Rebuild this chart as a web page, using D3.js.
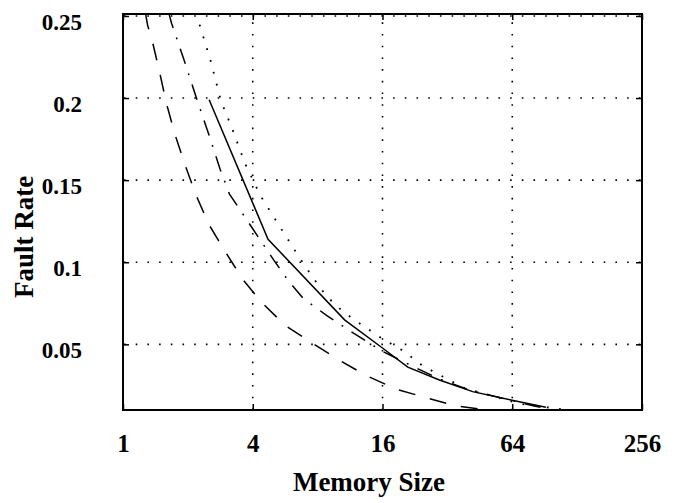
<!DOCTYPE html>
<html><head><meta charset="utf-8">
<script src="https://cdn.jsdelivr.net/npm/d3@7"></script>
<style>body{margin:0;background:#fff}svg{display:block}</style>
</head><body><svg id="c" width="689" height="503"></svg>
<script>
// ---- data ----
const xTicks = [1, 4, 16, 64, 256];
const yTicks = [0.05, 0.1, 0.15, 0.2, 0.25];
const xGrid = [4, 16, 64];
const xTitle = "Memory Size";
const yTitle = "Fault Rate";

const solidMem   = [2.51, 4.71, 10.67, 16.05, 20.96, 29.4, 41.9, 63.1, 91.7];
const solidRate  = [0.199, 0.114, 0.0649, 0.0476, 0.0361, 0.0283, 0.0212, 0.0161, 0.0117];

const dottedMem  = [2.2, 2.27, 2.55, 2.85, 3.21, 3.68, 4.34, 4.97, 5.69, 6.55, 7.56, 8.78, 10.48, 12.97, 16.05, 20.0, 24.6, 38.4, 55.3, 70.2, 117.5];
const dottedRate = [0.252, 0.2445, 0.2228, 0.1981, 0.1814, 0.1603, 0.1406, 0.1282, 0.116, 0.1034, 0.0912, 0.0795, 0.0699, 0.0614, 0.0533, 0.046, 0.0369, 0.0233, 0.0175, 0.0137, 0.0099];

const dashDotMem  = [1.63, 1.68, 1.92, 2.18, 2.49, 2.83, 3.12, 3.71, 4.23, 5.0, 5.89, 6.84, 8.83, 11.25, 16.05, 22.5, 29.4, 41.2, 62, 80.9, 90];
const dashDotRate = [0.252, 0.2456, 0.2232, 0.2009, 0.1786, 0.1562, 0.1415, 0.1268, 0.1156, 0.1014, 0.0882, 0.0781, 0.0675, 0.0583, 0.0456, 0.0361, 0.0289, 0.0218, 0.0161, 0.0125, 0.0113];

const dashMem  = [1.27, 1.30, 1.37, 1.48, 1.59, 1.74, 1.94, 2.18, 2.51, 3.0, 3.61, 4.44, 5.69, 7.56, 10.04, 13.53, 18.5, 25.5, 35.1, 48.5];
const dashRate = [0.252, 0.2445, 0.2343, 0.2155, 0.1968, 0.1781, 0.1593, 0.141, 0.1227, 0.1059, 0.0892, 0.075, 0.0612, 0.0507, 0.0405, 0.0308, 0.0227, 0.0175, 0.0125, 0.0100];

// ---- layout ----
const L = 123, R = 642, T = 14, B = 410;
const svg = d3.select("#c");
const x = d3.scaleLog().base(2).domain([1, 256]).range([L, R]);
const y = d3.scaleLinear().domain([0.01, 0.2512]).range([B, T]);
const font = "'Liberation Serif','Times New Roman',serif";

svg.append("defs").append("clipPath").attr("id", "clip")
  .append("rect").attr("x", L).attr("y", T).attr("width", R - L).attr("height", B - T);

// grid
const grid = svg.append("g").attr("stroke", "#000").attr("stroke-width", 1.6)
  .attr("stroke-dasharray", "1.6,10.1").attr("fill", "none");
yTicks.forEach(v => grid.append("line").attr("x1", L + 1).attr("x2", R).attr("y1", y(v)).attr("y2", y(v)));
xGrid.forEach(v => grid.append("line").attr("x1", x(v)).attr("x2", x(v)).attr("y1", B).attr("y2", T + 1));

// axes (ticks inside, mirrored)
const fmt = d => String(d);
const ax = {
  bottom: d3.axisBottom(x).tickValues(xTicks).tickFormat(fmt).tickSizeInner(-6).tickSizeOuter(0).tickPadding(24),
  top: d3.axisTop(x).tickValues(xTicks).tickFormat("").tickSizeInner(-6).tickSizeOuter(0),
  left: d3.axisLeft(y).tickValues(yTicks).tickFormat(fmt).tickSizeInner(-6).tickSizeOuter(0).tickPadding(41),
  right: d3.axisRight(y).tickValues(yTicks).tickFormat("").tickSizeInner(-6).tickSizeOuter(0)
};
const gb = svg.append("g").attr("transform", `translate(0,${B})`).call(ax.bottom);
const gt = svg.append("g").attr("transform", `translate(0,${T})`).call(ax.top);
const gl = svg.append("g").attr("transform", `translate(${L},0)`).call(ax.left);
const gr = svg.append("g").attr("transform", `translate(${R},0)`).call(ax.right);
[gb, gt, gl, gr].forEach(g => {
  g.select(".domain").remove();
  g.selectAll(".tick line").attr("stroke", "#000").attr("stroke-width", 1.5);
  g.selectAll("text").attr("fill", "#000").style("font-family", font).style("font-weight", "bold");
});
gb.selectAll("text").style("font-size", "25px");
gl.selectAll("text").style("font-size", "23px").attr("x", 82 - L).attr("dy", "0.58em").attr("text-anchor", "end");

// frame
svg.append("rect").attr("x", L).attr("y", T).attr("width", R - L).attr("height", B - T)
  .attr("fill", "none").attr("stroke", "#000").attr("stroke-width", 2);

// series
const line = d3.line().x(d => x(d[0])).y(d => y(d[1]));
const series = [
  {m: dashMem, r: dashRate, dash: "17,15", w: 1.5},
  {m: dashDotMem, r: dashDotRate, dash: "16,10,1.8,10", w: 1.5},
  {m: dottedMem, r: dottedRate, dash: "1.8,10.5", w: 1.8},
  {m: solidMem, r: solidRate, dash: null, w: 1.5}
];
const sg = svg.append("g").attr("clip-path", "url(#clip)");
series.forEach(s => {
  sg.append("path").datum(d3.zip(s.m, s.r)).attr("d", line)
    .attr("fill", "none").attr("stroke", "#000").attr("stroke-width", s.w)
    .attr("stroke-dasharray", s.dash);
});

// titles
svg.append("text").attr("x", 369).attr("y", 491).attr("text-anchor", "middle")
  .style("font-family", font).style("font-weight", "bold").style("font-size", "27px").text(xTitle);
svg.append("text").attr("transform", `translate(33,237) rotate(-90)`).attr("text-anchor", "middle")
  .style("font-family", font).style("font-weight", "bold").style("font-size", "27px").text(yTitle);
</script></body></html>
